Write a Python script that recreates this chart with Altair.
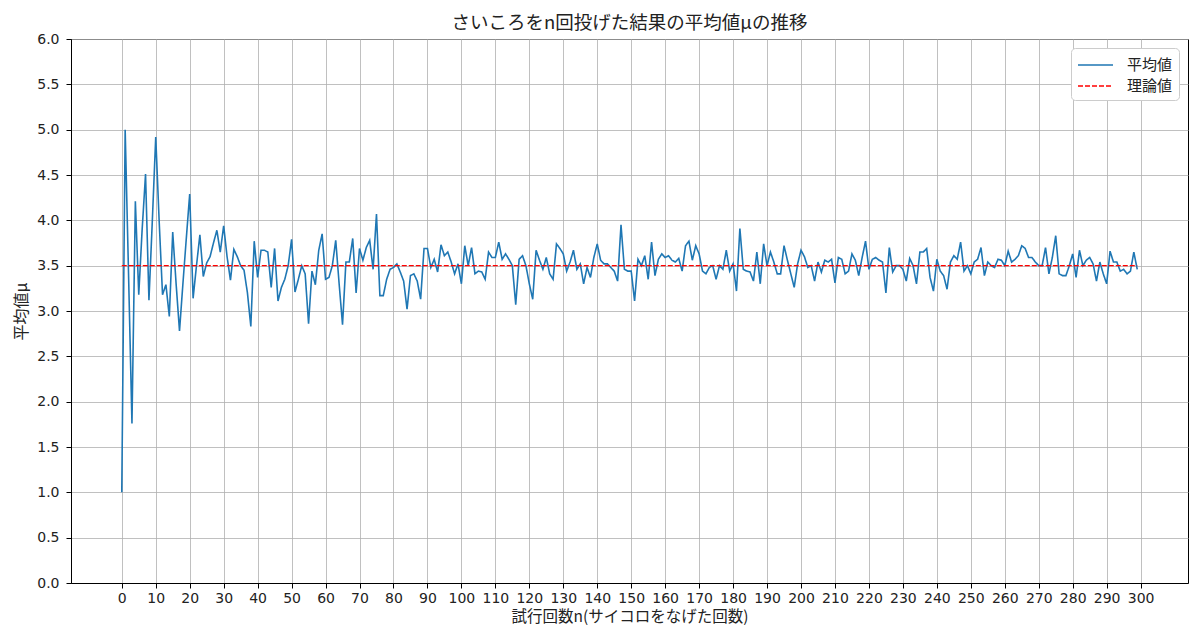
import altair as alt
import pandas as pd

trials = list(range(300))
mu = [
    1.00, 5.00, 3.40, 1.76, 4.21, 3.18, 3.90, 4.51, 3.12, 4.00,
    4.92, 4.00, 3.18, 3.29, 2.94, 3.87, 3.30, 2.78, 3.30, 3.80,
    4.29, 3.14, 3.50, 3.84, 3.38, 3.53, 3.60, 3.75, 3.89, 3.65,
    3.94, 3.60, 3.34, 3.68, 3.60, 3.50, 3.45, 3.20, 2.83, 3.77,
    3.37, 3.67, 3.67, 3.65, 3.26, 3.69, 3.11, 3.26, 3.35, 3.50,
    3.79, 3.21, 3.35, 3.50, 3.41, 2.86, 3.44, 3.29, 3.67, 3.85,
    3.35, 3.37, 3.50, 3.78, 3.30, 2.85, 3.54, 3.54, 3.80, 3.20,
    3.69, 3.56, 3.70, 3.78, 3.46, 4.07, 3.17, 3.17, 3.35, 3.46,
    3.48, 3.52, 3.43, 3.33, 3.02, 3.39, 3.41, 3.33, 3.13, 3.69,
    3.69, 3.48, 3.57, 3.43, 3.73, 3.61, 3.65, 3.54, 3.41, 3.52,
    3.30, 3.72, 3.50, 3.70, 3.41, 3.44, 3.43, 3.35, 3.65, 3.59,
    3.59, 3.76, 3.57, 3.63, 3.57, 3.50, 3.07, 3.57, 3.61, 3.50,
    3.30, 3.13, 3.67, 3.56, 3.46, 3.59, 3.41, 3.35, 3.74, 3.69,
    3.63, 3.44, 3.54, 3.67, 3.46, 3.52, 3.30, 3.48, 3.37, 3.59,
    3.74, 3.56, 3.52, 3.52, 3.48, 3.44, 3.33, 3.95, 3.46, 3.44,
    3.44, 3.11, 3.57, 3.50, 3.61, 3.35, 3.76, 3.39, 3.57, 3.63,
    3.59, 3.61, 3.56, 3.54, 3.58, 3.44, 3.72, 3.77, 3.56, 3.72,
    3.63, 3.44, 3.41, 3.48, 3.50, 3.35, 3.50, 3.46, 3.67, 3.44,
    3.52, 3.22, 3.91, 3.46, 3.44, 3.43, 3.33, 3.65, 3.30, 3.74,
    3.50, 3.65, 3.54, 3.41, 3.41, 3.72, 3.56, 3.41, 3.26, 3.52,
    3.67, 3.60, 3.48, 3.50, 3.33, 3.54, 3.43, 3.56, 3.54, 3.57,
    3.31, 3.59, 3.57, 3.41, 3.44, 3.63, 3.56, 3.39, 3.59, 3.77,
    3.46, 3.57, 3.59, 3.56, 3.54, 3.20, 3.70, 3.43, 3.50, 3.50,
    3.46, 3.33, 3.58, 3.50, 3.30, 3.65, 3.65, 3.69, 3.37, 3.22,
    3.57, 3.44, 3.39, 3.24, 3.54, 3.61, 3.57, 3.76, 3.44, 3.50,
    3.41, 3.54, 3.57, 3.70, 3.39, 3.54, 3.50, 3.48, 3.57, 3.56,
    3.50, 3.66, 3.54, 3.57, 3.61, 3.72, 3.69, 3.59, 3.59, 3.54,
    3.50, 3.50, 3.70, 3.41, 3.59, 3.83, 3.41, 3.39, 3.39, 3.50,
    3.63, 3.37, 3.67, 3.50, 3.56, 3.59, 3.52, 3.33, 3.54, 3.41,
    3.30, 3.66, 3.54, 3.54, 3.44, 3.46, 3.41, 3.44, 3.65, 3.46,
]
theory_n = [0, 299]
theory_mu = [3.5, 3.5]
series_names = ["平均値", "理論値"]
series_colors = ["#1f77b4", "#ff0000"]
x_ticks = list(range(0, 301, 10))
y_ticks = [i * 0.5 for i in range(13)]

FONT = "Noto Sans CJK JP"
NUM_FONT = "DejaVu Sans"

df_mean = pd.DataFrame({"n": trials, "mu": mu, "series": series_names[0]})
df_theory = pd.DataFrame({"n": theory_n, "mu": theory_mu, "series": series_names[1]})

x_enc = alt.X(
    "n:Q",
    scale=alt.Scale(domain=[-14.95, 313.95], nice=False, zero=False),
    axis=alt.Axis(
        values=x_ticks,
        title="試行回数n(サイコロをなげた回数)",
        format="d",
        titleFontSize=15.5,
        titlePadding=4,
    ),
)
y_enc = alt.Y(
    "mu:Q",
    scale=alt.Scale(domain=[0, 6], nice=False),
    axis=alt.Axis(values=y_ticks, title="平均値μ", format=".1f", labelPadding=7, titlePadding=7),
)
color_enc = alt.Color(
    "series:N",
    scale=alt.Scale(domain=series_names, range=series_colors),
    legend=alt.Legend(title=None),
)
dash_enc = alt.StrokeDash(
    "series:N",
    scale=alt.Scale(domain=series_names, range=[[1, 0], [5, 2]]),
    legend=alt.Legend(title=None),
)
width_enc = alt.StrokeWidth(
    "series:N",
    scale=alt.Scale(domain=series_names, range=[1.6, 1.4]),
    legend=alt.Legend(title=None),
)

mean_line = alt.Chart(df_mean).mark_line().encode(
    x=x_enc, y=y_enc, color=color_enc, strokeDash=dash_enc, strokeWidth=width_enc
)
theory_line = alt.Chart(df_theory).mark_line().encode(
    x=x_enc, y=y_enc, color=color_enc, strokeDash=dash_enc, strokeWidth=width_enc
)

chart = (
    alt.layer(mean_line, theory_line)
    .properties(
        width=1117,
        height=544,
        autosize=alt.AutoSizeParams(type="none"),
        padding={"left": 63, "top": 31, "right": 4, "bottom": 48},
        title=alt.TitleParams(
            "さいころをn回投げた結果の平均値μの推移",
            font=FONT,
            fontSize=18.5,
            fontWeight="normal",
            color="#222222",
            anchor="middle",
            offset=0,
        ),
    )
    .configure_view(stroke="black", strokeWidth=1)
    .configure_axis(
        labelFont=NUM_FONT,
        titleFont=FONT,
        labelFontSize=14,
        titleFontSize=16,
        titleFontWeight="normal",
        labelColor="#222222",
        titleColor="#222222",
        grid=True,
        gridColor="#b0b0b0",
        gridWidth=0.8,
        domainColor="black",
        domainWidth=1,
        tickColor="black",
        tickSize=5,
        labelPadding=3,
    )
    .configure_legend(
        orient="top-right",
        offset=9,
        fillColor="white",
        strokeColor="#cccccc",
        cornerRadius=4,
        padding=6,
        labelFont=FONT,
        labelFontSize=15,
        labelColor="#222222",
        symbolType="M-1,0L2.5,0",
        symbolSize=400,
        rowPadding=2,
        labelOffset=28,
    )
)

chart.save("out.html", embed_options={"renderer": "svg", "actions": False})
